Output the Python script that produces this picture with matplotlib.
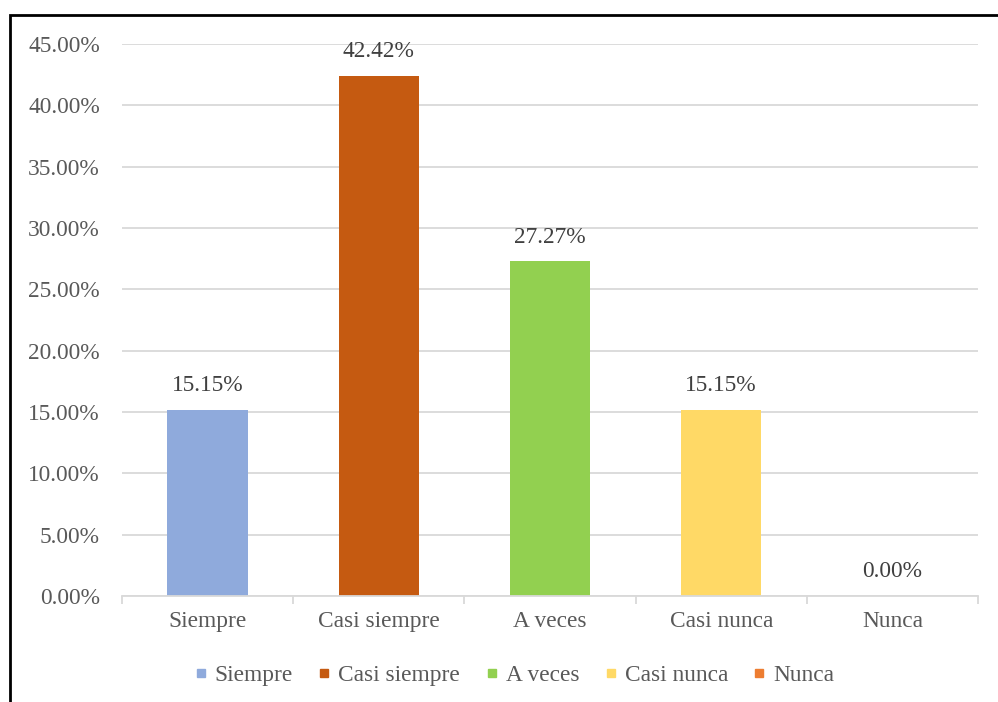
import matplotlib.pyplot as plt
from matplotlib.lines import Line2D
from matplotlib.patches import Rectangle
from matplotlib.ticker import FuncFormatter, MultipleLocator

# data
categories = ["Siempre", "Casi siempre", "A veces", "Casi nunca", "Nunca"]
values = [0.1515, 0.4242, 0.2727, 0.1515, 0.0]
colors = ["#8faadc", "#c55a11", "#92d050", "#ffd966", "#ed7d31"]

plt.rcParams['font.family'] = ['Liberation Serif', 'DejaVu Serif']
fs = 16.8
tick_col = "#595959"

fig = plt.figure(figsize=(9.98, 7.02), dpi=100)
ax = fig.add_axes([122 / 998, 1 - 596 / 702, 856 / 998, 552 / 702])

x = list(range(len(categories)))
bars = ax.bar(x, values, width=0.47, color=colors, zorder=3)

# data labels above each bar
for xi, v in zip(x, values):
    ax.annotate(f"{v * 100:.2f}%", (xi, v), xytext=(0, 10), textcoords="offset points",
                ha="center", va="bottom", fontsize=fs, color="#404040")

ax.set_xlim(-0.5, len(categories) - 0.5)
ax.set_ylim(0, 0.45)
ax.yaxis.set_major_locator(MultipleLocator(0.05))
ax.yaxis.set_major_formatter(FuncFormatter(lambda v, p: f"{v * 100:.2f}%"))
ax.grid(axis="y", color="#d9d9d9", linewidth=1.3, zorder=0)

ax.set_xticks(x)
ax.set_xticklabels(categories)
ax.set_xticks([i - 0.5 for i in range(len(categories) + 1)], minor=True)
ax.tick_params(axis="x", which="major", length=0, pad=11, labelsize=fs, labelcolor=tick_col)
ax.tick_params(axis="x", which="minor", length=5.5, width=1.3, color="#d9d9d9")
ax.tick_params(axis="y", length=0, pad=16, labelsize=fs, labelcolor=tick_col)

for side in ["top", "right", "left"]:
    ax.spines[side].set_visible(False)
ax.spines["bottom"].set_color("#d9d9d9")
ax.spines["bottom"].set_linewidth(1.3)
ax.spines["bottom"].set_zorder(4)

handles = [Line2D([], [], marker="s", linestyle="none", markersize=6,
                  markerfacecolor=c, markeredgecolor=c) for c in colors]
fig.legend(handles, categories, loc="center", bbox_to_anchor=(514 / 998, 1 - 675 / 702),
           ncol=5, frameon=False, fontsize=fs, labelcolor=tick_col,
           handlelength=0.6, handletextpad=0.3, columnspacing=1.05)

# outer border of the chart area
fig.patches.append(Rectangle((10 / 998, -0.1), 1.2, 1.1 - 15 / 702, transform=fig.transFigure,
                             fill=False, edgecolor="black", linewidth=2))

fig.savefig("out.png", dpi=100)
